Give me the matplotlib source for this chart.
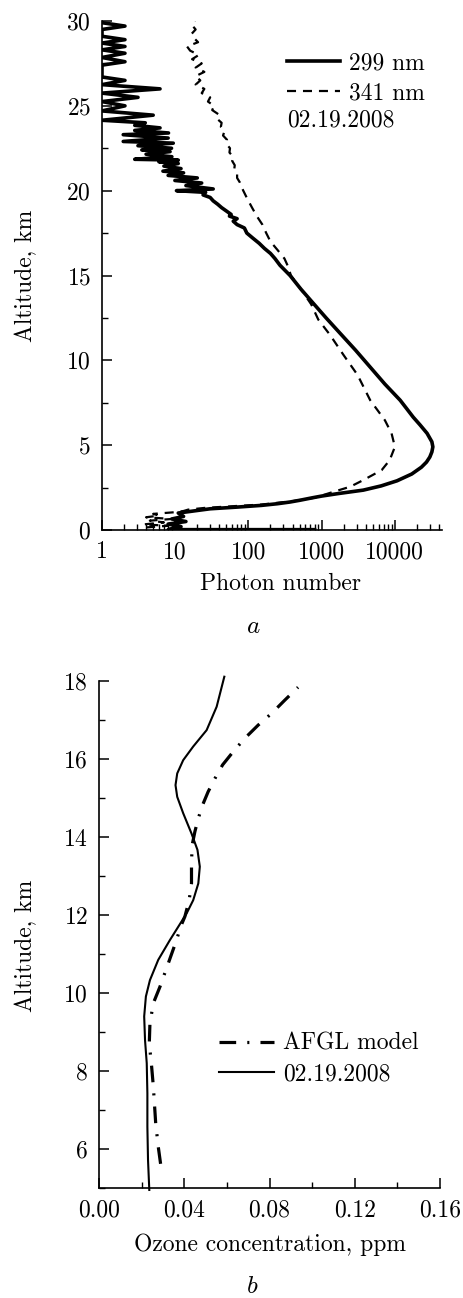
import matplotlib
matplotlib.use("Agg")
import matplotlib.pyplot as plt
from matplotlib.ticker import FixedLocator, FixedFormatter, MultipleLocator, LogLocator, NullFormatter
import numpy as np

plt.rcParams['font.family'] = ['cmr10', 'DejaVu Serif']
plt.rcParams['mathtext.fontset'] = 'cm'
plt.rcParams['axes.formatter.use_mathtext'] = True
plt.rcParams['lines.scale_dashes'] = False

# ---------------- panel a data ----------------
alt_299 = [0.02, 0.02, 0.2, 0.35, 0.5, 0.65, 0.8, 1.0, 1.15, 1.25, 1.35, 1.45, 1.55, 1.65, 1.75,
           1.9, 2.0, 2.15, 2.35, 2.6, 2.9, 3.3, 3.7, 4.0, 4.3, 4.6, 4.9, 5.2, 5.7, 6.2, 6.65,
           7.15, 7.65, 8.6, 9.6, 10.6, 11.6, 12.5, 13.5, 14.2, 15.0, 15.6, 16.0, 16.3, 16.6,
           16.9, 17.2, 17.5, 17.8, 18.0, 18.2, 18.35, 18.5, 18.6, 18.8, 19.0, 19.2, 19.4, 19.6,
           19.75, 19.9,
           20.0, 20.1, 20.3, 20.45, 20.6, 20.75, 20.9, 21.05, 21.15, 21.3, 21.45, 21.6, 21.7,
           21.8, 21.85, 22.0, 22.15, 22.3, 22.4, 22.5, 22.65, 22.8, 22.9, 23.1, 23.3, 23.4,
           23.55, 23.7, 23.85, 24.0, 24.15, 24.45, 24.7, 25.0, 25.25, 25.5, 25.75, 26.0, 26.25,
           26.5, 26.7, 27.4, 27.6, 27.85, 28.1, 28.3, 28.5, 28.7, 28.9, 29.1, 29.5, 29.7, 29.9,
           30.0]
val_299 = [800, 8, 12, 8, 14, 9, 13, 11, 20, 30, 70, 150, 250, 370, 500,
           750, 1000, 1700, 3700, 6500, 10700, 17000, 23000, 27000, 30000, 32000, 33000, 32000, 27500, 22000, 17800,
           14500, 11800, 7300, 4600, 2900, 1780, 1150, 720, 520, 370, 270, 230, 200, 165,
           140, 115, 95, 88, 70, 62, 70, 55, 58, 50, 43, 38, 33, 30,
           24, 26,
           10.4, 33, 14, 23, 9.9, 20, 8, 13, 6.8, 12, 7, 11, 6,
           11, 2.8, 9, 4, 8.5, 3.5, 8.9, 3.1, 9.4, 1.95, 8, 1.95, 8.1,
           2.8, 6.2, 2.8, 3.9, 1, 5.0, 1, 2.06, 1, 3.1, 1, 6.2, 1,
           2.06, 1, 1, 2.06, 1, 2.06, 1, 2.06, 1, 2.06, 1, 1, 2.06, 1,
           1]

alt_341 = [0.15, 0.25, 0.33, 0.45, 0.55, 0.65, 0.75, 0.85, 0.95, 1.05, 1.12, 1.2, 1.3, 1.4, 1.5,
           1.7, 1.9, 2.25, 2.55, 2.94, 3.53, 4.12, 4.9, 5.7, 6.47, 7.65, 9.13, 10.3, 11.5, 12.4,
           13.3, 14.0, 15.0, 15.5, 16.0, 16.5, 17.0, 17.5, 18.0, 18.5, 19.0, 19.5,
           20.0, 20.25, 20.5, 20.75, 21.0, 21.25, 21.5, 21.75, 22.0, 22.25, 22.5, 22.75, 23.0,
           23.25, 23.5, 23.75, 24.0, 24.25, 24.5, 24.75, 25.0, 25.25, 25.5, 25.75, 26.0, 26.25,
           26.5, 26.75, 27.0, 27.25, 27.5, 27.75, 28.0, 28.25, 28.5, 28.75, 29.0, 29.25, 29.5,
           29.75, 30.0]
val_341 = [4, 8, 3.7, 7, 4.5, 9, 4, 6, 5, 10, 13, 15, 25, 60, 150,
           400, 800, 1450, 2450, 3700, 6600, 8500, 10000, 9000, 7300, 4600, 3100, 2000, 1300, 900,
           720, 560, 380, 350, 310, 250, 200, 175, 155, 130, 112, 97,
           85, 80, 76, 70, 70, 64, 65, 60, 62, 55, 56, 50, 51,
           45, 47, 42, 43, 37, 39, 32, 34, 28, 30, 23, 25, 19,
           22, 19, 25, 19, 23, 17, 21, 16, 14.5, 20.5, 18, 16.8, 19,
           17, 18.6]

# ---------------- panel b data ----------------
alt_obs = [4.95, 5.72, 6.57, 7.43, 8.2, 8.79, 9.4, 9.91, 10.33, 10.85, 11.36, 11.7, 12.04, 12.38,
           12.81, 13.24, 13.67, 14.09, 14.61, 15.03, 15.33, 15.63, 15.97, 16.32, 16.74, 17.34, 18.11]
val_obs = [0.0236, 0.0230, 0.0227, 0.0227, 0.0224, 0.0216, 0.0212, 0.0220, 0.0239, 0.0278, 0.0333,
           0.0372, 0.0411, 0.0442, 0.0466, 0.0473, 0.0462, 0.0434, 0.0395, 0.0367, 0.0359, 0.0367,
           0.0395, 0.0442, 0.0505, 0.0552, 0.0588]

alt_afgl = [5.62, 6.06, 6.66, 7.6, 8.11, 8.71, 9.22, 9.74, 10.16, 10.76, 11.36, 11.7, 11.96, 12.38,
            12.81, 13.32, 13.79, 14.14, 14.48, 14.82, 15.16, 15.5, 15.85, 16.19, 16.53, 16.87,
            17.17, 17.51, 17.84]
val_afgl = [0.0289, 0.0278, 0.0266, 0.0255, 0.0247, 0.0236, 0.0239, 0.0255, 0.0286, 0.0325, 0.0364,
            0.0383, 0.0403, 0.0423, 0.0434, 0.0434, 0.0437, 0.0450, 0.0466, 0.0486, 0.0512, 0.0544,
            0.0580, 0.0630, 0.0684, 0.0747, 0.0810, 0.0872, 0.0934]

FS = 17

fig = plt.figure(figsize=(4.63, 12.98), dpi=100)

# ---------- panel a ----------
axa = fig.add_axes([102/463, 1-530/1298, 340/463, 509/1298])
axa.plot(val_299, alt_299, color='black', lw=2.6, label='299 nm')
axa.plot(val_341, alt_341, color='black', lw=1.6, linestyle=(0, (6.5, 5)), label='341 nm')
axa.set_xscale('log')
axa.set_xlim(1, 44000)
axa.set_ylim(0, 30)
axa.xaxis.set_major_locator(FixedLocator([1, 10, 100, 1000, 10000]))
axa.xaxis.set_major_formatter(FixedFormatter(['1', '10', '100', '1000', '10000']))
axa.xaxis.set_minor_locator(LogLocator(base=10, subs=np.arange(2, 10), numticks=20))
axa.xaxis.set_minor_formatter(NullFormatter())
axa.yaxis.set_major_locator(MultipleLocator(5))
axa.yaxis.set_minor_locator(MultipleLocator(2.5))
axa.set_xlabel('Photon number', fontsize=FS)
axa.set_ylabel('Altitude, km', fontsize=FS)
axa.xaxis.set_label_coords(0.526, -0.084)
axa.yaxis.set_label_coords(-0.19, 0.5)
axa.legend(loc='upper left', bbox_to_anchor=(0.544, 0.938), frameon=False, fontsize=FS,
           handlelength=2.25, handletextpad=0.38, labelspacing=0.32, borderaxespad=0,
           borderpad=0)
axa.text(0.544, 0.805, '02.19.2008', transform=axa.transAxes, fontsize=FS, va='center', ha='left')

# ---------- panel b ----------
axb = fig.add_axes([99/463, 1-1188/1298, 341/463, 507/1298])
axb.plot(val_afgl, alt_afgl, color='black', lw=2.3, linestyle=(0, (12, 8, 1.5, 8)), label='AFGL model')
axb.plot(val_obs, alt_obs, color='black', lw=1.5, label='02.19.2008', clip_on=False)
axb.set_xlim(0, 0.16)
axb.set_ylim(5, 18)
axb.xaxis.set_major_locator(FixedLocator([0, 0.04, 0.08, 0.12, 0.16]))
axb.xaxis.set_major_formatter(FixedFormatter(['0.00', '0.04', '0.08', '0.12', '0.16']))
axb.xaxis.set_minor_locator(MultipleLocator(0.02))
axb.yaxis.set_major_locator(MultipleLocator(2))
axb.yaxis.set_minor_locator(MultipleLocator(1))
axb.set_xlabel('Ozone concentration, ppm', fontsize=FS)
axb.set_ylabel('Altitude, km', fontsize=FS)
axb.xaxis.set_label_coords(0.5, -0.089)
axb.yaxis.set_label_coords(-0.182, 0.477)
axb.legend(loc='upper left', bbox_to_anchor=(0.352, 0.306), frameon=False, fontsize=FS,
           handlelength=2.33, handletextpad=0.38, labelspacing=0.35, borderaxespad=0, borderpad=0)

for ax in (axa, axb):
    for s in ('top', 'right'):
        ax.spines[s].set_visible(False)
    for s in ('left', 'bottom'):
        ax.spines[s].set_linewidth(1.2)
    ax.tick_params(which='major', direction='in', length=7, width=1.1, labelsize=FS, pad=8)
    ax.tick_params(which='minor', direction='in', length=4, width=1.0)

fig.text(253/463, 1-627/1298, '$a$', fontsize=FS+1, ha='center', va='center')
fig.text(252/463, 1-1287/1298, '$b$', fontsize=FS+1, ha='center', va='center')

fig.savefig('out.png', dpi=100)
